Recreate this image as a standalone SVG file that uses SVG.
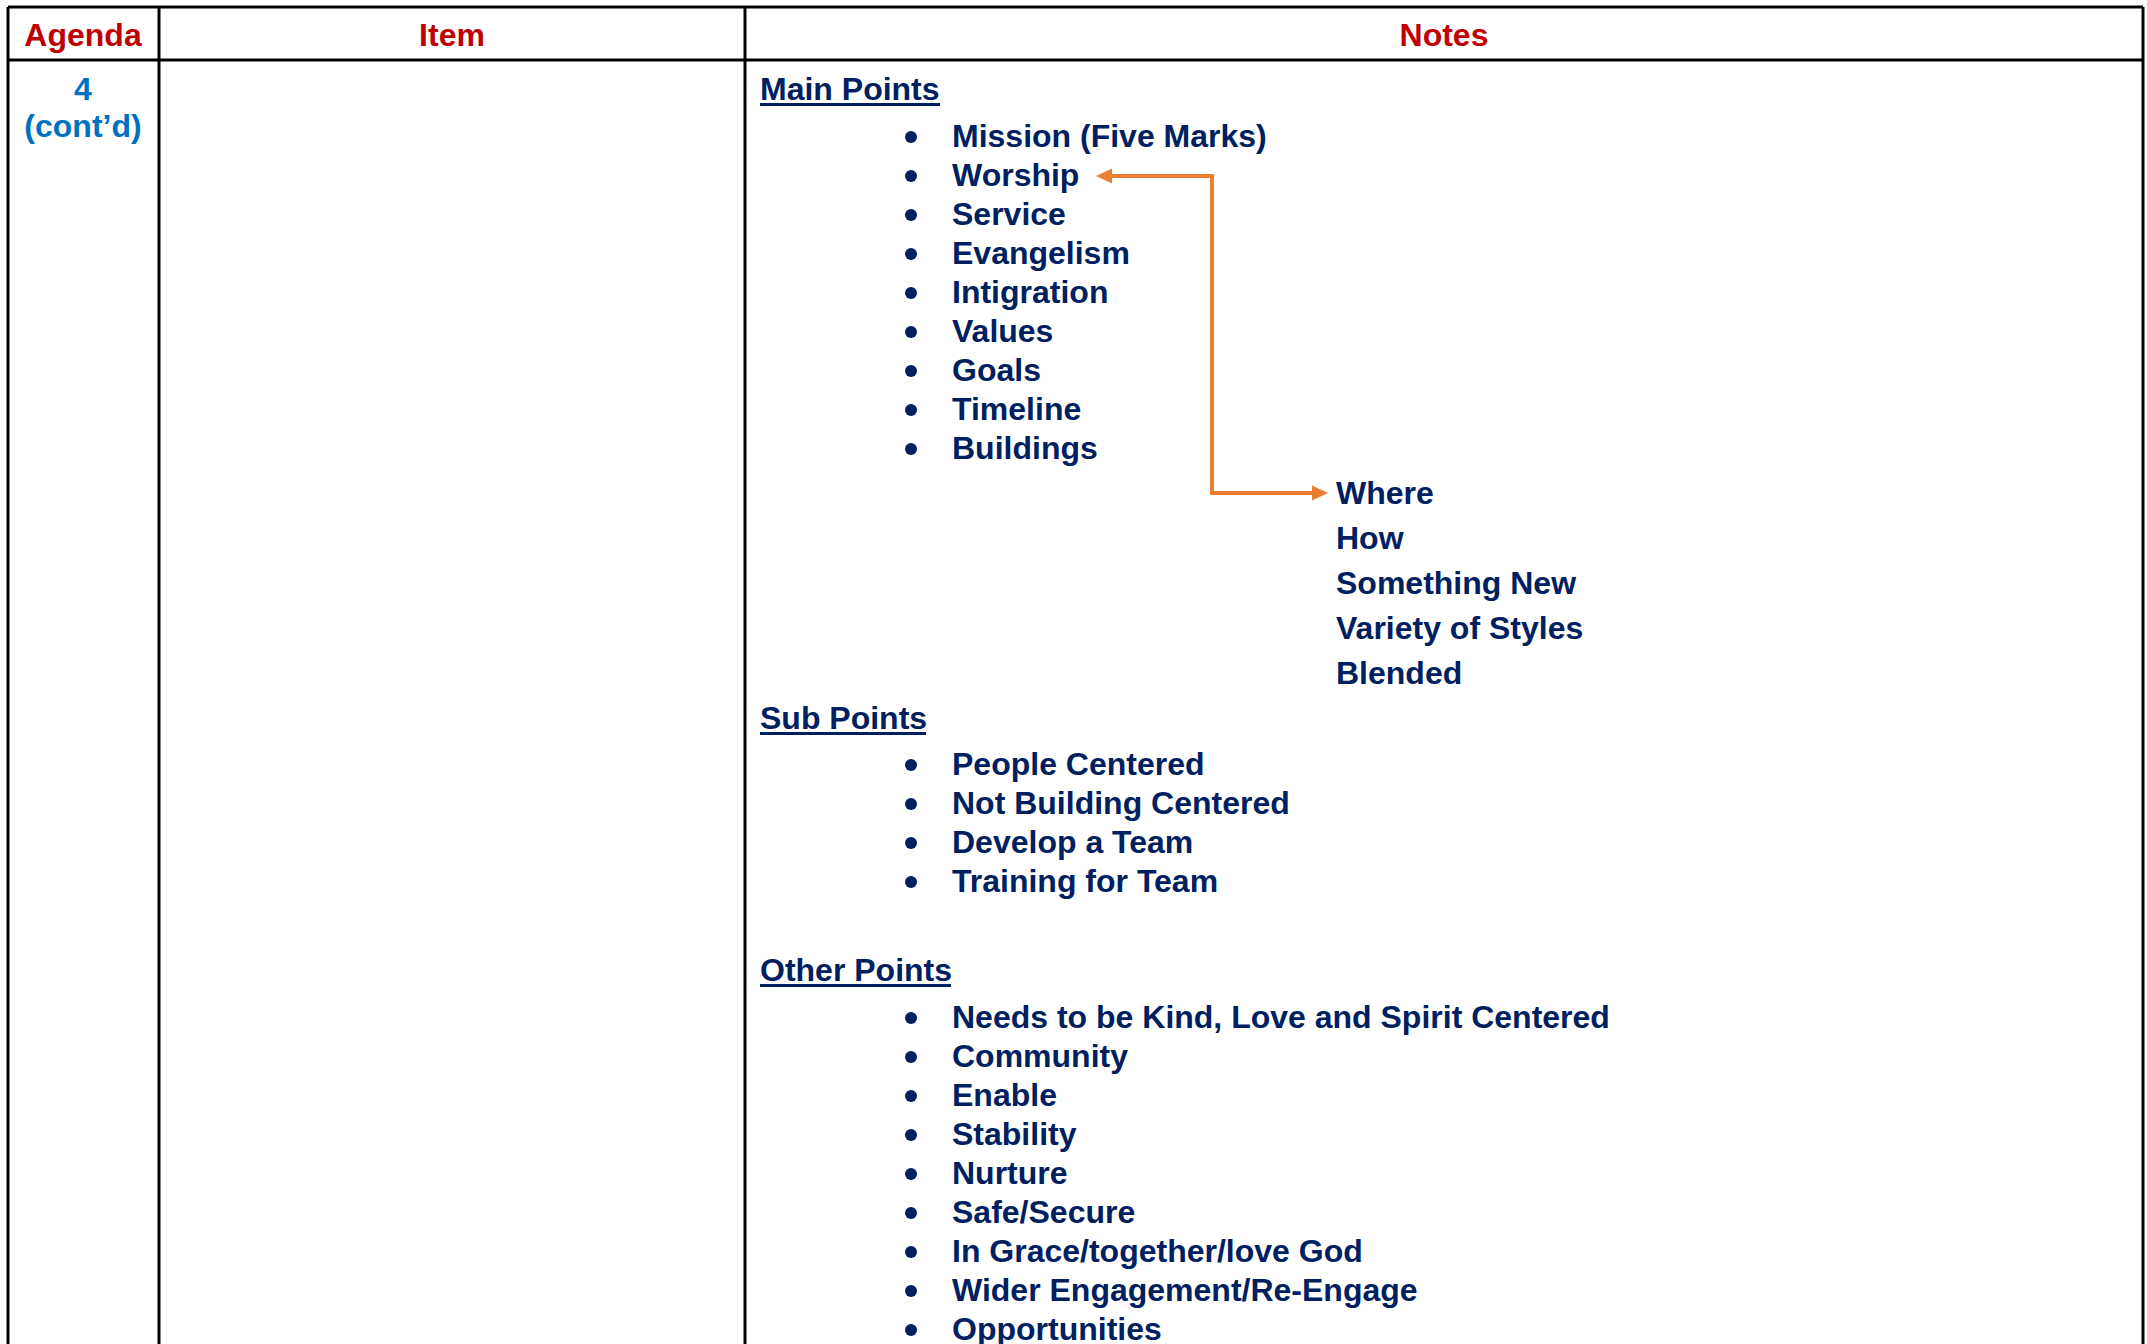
<svg xmlns="http://www.w3.org/2000/svg" width="2147" height="1344" viewBox="0 0 2147 1344">
<style>
text{font-family:"Liberation Sans",Arial,sans-serif;font-weight:bold;font-size:32px}
.hd{fill:#C00000;text-anchor:middle}
.ag{fill:#0070C0;text-anchor:middle}
.tx{fill:#002060}
.bl{fill:#002060}
.ul{fill:#002060}
.grid{stroke:#000;stroke-width:3;fill:none}
.conn{stroke:#ED7D31;stroke-width:4;fill:none}
</style>
<defs>
<marker id="ah" markerWidth="16" markerHeight="16" refX="0" refY="8" orient="auto" markerUnits="userSpaceOnUse"><path d="M0,0.5 L16,8 L0,15.5 Z" fill="#ED7D31"/></marker>
</defs>
<rect width="2147" height="1344" fill="#fff"/>
<g id="table" class="grid">
<path d="M8,7 H2143 M8,60 H2143 M8,7 V1344 M159,7 V1344 M745,7 V1344 M2143,7 V1344"/>
</g>
<g id="header">
<text class="hd" x="83" y="46">Agenda</text>
<text class="hd" x="452" y="46">Item</text>
<text class="hd" x="1444" y="46">Notes</text>
</g>
<g id="agenda">
<text class="ag" x="83" y="100">4</text>
<text class="ag" x="83" y="137">(cont’d)</text>
</g>
<g id="main-points">
<text class="tx" x="760" y="100">Main Points</text>
<rect class="ul" x="760" y="103" width="180" height="3"/>
<g class="bl">
<circle cx="911" cy="137" r="6"/><circle cx="911" cy="176" r="6"/><circle cx="911" cy="215" r="6"/><circle cx="911" cy="254" r="6"/><circle cx="911" cy="293" r="6"/><circle cx="911" cy="332" r="6"/><circle cx="911" cy="371" r="6"/><circle cx="911" cy="410" r="6"/><circle cx="911" cy="449" r="6"/>
</g>
<text class="tx" x="952" y="147">Mission (Five Marks)</text>
<text class="tx" x="952" y="186">Worship</text>
<text class="tx" x="952" y="225">Service</text>
<text class="tx" x="952" y="264">Evangelism</text>
<text class="tx" x="952" y="303">Intigration</text>
<text class="tx" x="952" y="342">Values</text>
<text class="tx" x="952" y="381">Goals</text>
<text class="tx" x="952" y="420">Timeline</text>
<text class="tx" x="952" y="459">Buildings</text>
</g>
<g id="worship-details">
<text class="tx" x="1336" y="504">Where</text>
<text class="tx" x="1336" y="549">How</text>
<text class="tx" x="1336" y="594">Something New</text>
<text class="tx" x="1336" y="639">Variety of Styles</text>
<text class="tx" x="1336" y="684">Blended</text>
</g>
<g id="sub-points">
<text class="tx" x="760" y="729">Sub Points</text>
<rect class="ul" x="760" y="732" width="166" height="3"/>
<g class="bl">
<circle cx="911" cy="765" r="6"/><circle cx="911" cy="804" r="6"/><circle cx="911" cy="843" r="6"/><circle cx="911" cy="882" r="6"/>
</g>
<text class="tx" x="952" y="775">People Centered</text>
<text class="tx" x="952" y="814">Not Building Centered</text>
<text class="tx" x="952" y="853">Develop a Team</text>
<text class="tx" x="952" y="892">Training for Team</text>
</g>
<g id="other-points">
<text class="tx" x="760" y="981">Other Points</text>
<rect class="ul" x="760" y="984" width="191" height="3"/>
<g class="bl">
<circle cx="911" cy="1018" r="6"/><circle cx="911" cy="1057" r="6"/><circle cx="911" cy="1096" r="6"/><circle cx="911" cy="1135" r="6"/><circle cx="911" cy="1174" r="6"/><circle cx="911" cy="1213" r="6"/><circle cx="911" cy="1252" r="6"/><circle cx="911" cy="1291" r="6"/><circle cx="911" cy="1330" r="6"/>
</g>
<text class="tx" x="952" y="1028">Needs to be Kind, Love and Spirit Centered</text>
<text class="tx" x="952" y="1067">Community</text>
<text class="tx" x="952" y="1106">Enable</text>
<text class="tx" x="952" y="1145">Stability</text>
<text class="tx" x="952" y="1184">Nurture</text>
<text class="tx" x="952" y="1223">Safe/Secure</text>
<text class="tx" x="952" y="1262">In Grace/together/love God</text>
<text class="tx" x="952" y="1301">Wider Engagement/Re-Engage</text>
<text class="tx" x="952" y="1340">Opportunities</text>
</g>
<g id="connectors">
<path class="conn" d="M1212,174 V493"/>
<path class="conn" d="M1214,176 H1112" marker-end="url(#ah)"/>
<path class="conn" d="M1210,493 H1312" marker-end="url(#ah)"/>
</g>
</svg>
